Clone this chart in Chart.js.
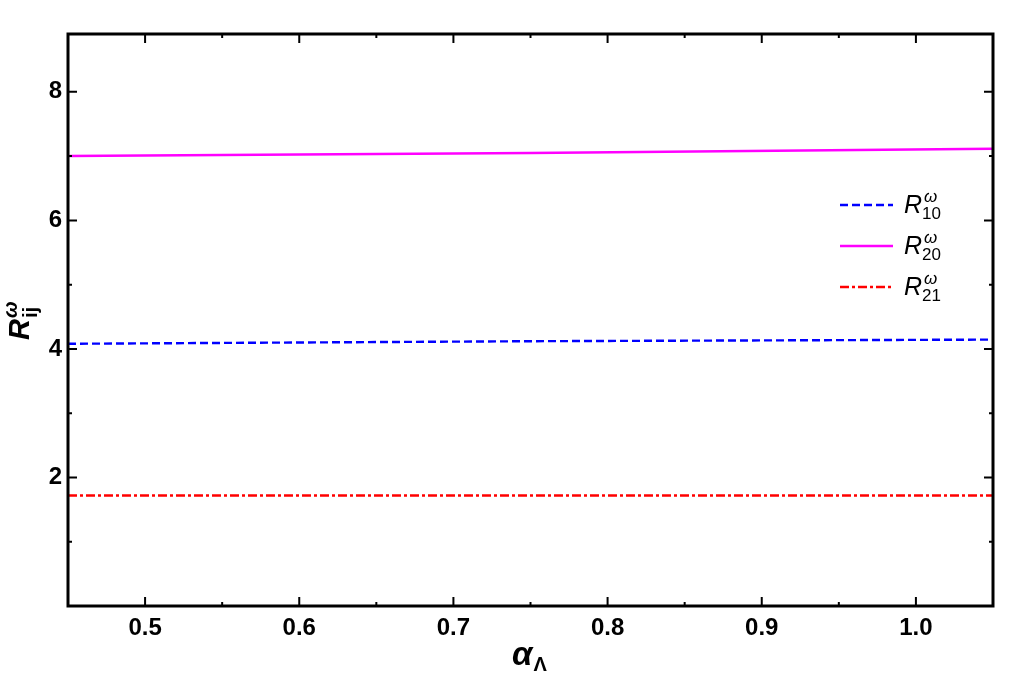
<!DOCTYPE html>
<html>
<head>
<meta charset="utf-8">
<script src="https://cdn.jsdelivr.net/npm/chart.js@4.4.1/dist/chart.umd.min.js"></script>
<style>
  html, body { margin:0; padding:0; background:#fff; }
  #wrap { width:1013px; height:675px; position:relative; }
</style>
</head>
<body>
<div id="wrap"><canvas id="c" width="1013" height="675"></canvas></div>
<script>
// values
const ALPHA = [0.45, 0.75, 1.05];
const R10 = [4.08, 4.12, 4.145];
const R20 = [7.00, 7.05, 7.115];
const R21 = [1.72, 1.72, 1.72];

const X_MAJOR = [0.5, 0.6, 0.7, 0.8, 0.9, 1.0];
const X_MINOR = [0.55, 0.65, 0.75, 0.85, 0.95];
const Y_MAJOR = [2, 4, 6, 8];
const Y_MINOR = [1, 3, 5, 7];

const SERIES = [
  { sub: '10', data: R10, color: '#0000ff', dash: [8, 4], width: 2.4 },
  { sub: '20', data: R20, color: '#ff00ff', dash: [], width: 2.5 },
  { sub: '21', data: R21, color: '#ff0000', dash: [9, 3, 3, 3], width: 2.4 },
];

const FONT = '"Liberation Sans", Arial, sans-serif';

// ticks pointing inward on all four sides, drawn from the scales
const tickPlugin = {
  id: 'inTicks',
  afterDraw(chart) {
    const { ctx, chartArea: a, scales: { x, y } } = chart;
    ctx.save();
    ctx.strokeStyle = '#000';
    ctx.lineWidth = 2;
    const xt = (v, len) => {
      const px = x.getPixelForValue(v);
      ctx.beginPath();
      ctx.moveTo(px, a.bottom); ctx.lineTo(px, a.bottom - len);
      ctx.moveTo(px, a.top); ctx.lineTo(px, a.top + len);
      ctx.stroke();
    };
    const yt = (v, len) => {
      const py = y.getPixelForValue(v);
      ctx.beginPath();
      ctx.moveTo(a.left, py); ctx.lineTo(a.left + len, py);
      ctx.moveTo(a.right, py); ctx.lineTo(a.right - len, py);
      ctx.stroke();
    };
    X_MAJOR.forEach(v => xt(v, 9));
    X_MINOR.forEach(v => xt(v, 4));
    Y_MAJOR.forEach(v => yt(v, 9));
    Y_MINOR.forEach(v => yt(v, 4));

    // frame
    ctx.lineWidth = 3;
    ctx.strokeRect(a.left, a.top, a.right - a.left, a.bottom - a.top);

    // axis titles
    ctx.fillStyle = '#000';
    ctx.textBaseline = 'alphabetic';
    ctx.font = 'italic bold 33px ' + FONT;
    const aw = ctx.measureText('α').width;
    const ax = 512;
    ctx.fillText('α', ax, 665);
    ctx.font = 'bold 20px ' + FONT;
    ctx.fillText('Λ', ax + aw + 1, 671);

    ctx.save();
    ctx.translate(29, 340);
    ctx.rotate(-Math.PI / 2);
    ctx.font = 'italic bold 29px ' + FONT;
    const rw = ctx.measureText('R').width;
    ctx.fillText('R', 0, 0);
    ctx.font = 'bold 20px ' + FONT;
    ctx.fillText('ij', rw + 1, 8);
    ctx.font = 'bold italic 20px ' + FONT;
    ctx.fillText('ω', rw + 1, -12);
    ctx.restore();

    // legend
    SERIES.forEach((s, i) => {
      const ly = 205 + i * 41;
      ctx.strokeStyle = s.color;
      ctx.lineWidth = s.width;
      ctx.setLineDash(s.dash);
      ctx.beginPath();
      ctx.moveTo(840, ly); ctx.lineTo(893, ly);
      ctx.stroke();
      ctx.setLineDash([]);
      ctx.fillStyle = '#000';
      ctx.font = 'italic 25px ' + FONT;
      ctx.fillText('R', 904, ly + 8);
      const w = ctx.measureText('R').width;
      ctx.font = '17px ' + FONT;
      ctx.fillText(s.sub, 904 + w, ly + 14);
      ctx.font = 'italic 17px ' + FONT;
      ctx.fillText('ω', 904 + w + 2, ly - 3);
    });
    ctx.restore();
  }
};

new Chart(document.getElementById('c').getContext('2d'), {
  type: 'line',
  data: {
    datasets: SERIES.map(s => ({
      label: 'R' + s.sub,
      data: ALPHA.map((a, i) => ({ x: a, y: s.data[i] })),
      borderColor: s.color,
      borderWidth: s.width,
      borderDash: s.dash,
      pointRadius: 0,
      fill: false,
      tension: 0,
    }))
  },
  options: {
    responsive: false,
    animation: false,
    layout: { padding: { top: 34, right: 20, left: 0, bottom: 0 } },
    plugins: { legend: { display: false }, tooltip: { enabled: false } },
    scales: {
      x: {
        type: 'linear', min: 0.45, max: 1.05,
        afterBuildTicks: s => { s.ticks = X_MAJOR.map(v => ({ value: v })); },
        afterFit: s => { s.height = 69; },
        grid: { display: false, drawTicks: false },
        border: { display: false },
        ticks: {
          font: { family: FONT, size: 24, weight: 'bold' }, color: '#000', padding: 8,
          maxRotation: 0, callback: v => v.toFixed(1)
        }
      },
      y: {
        type: 'linear', min: 0, max: 8.9,
        afterBuildTicks: s => { s.ticks = Y_MAJOR.map(v => ({ value: v })); },
        afterFit: s => { s.width = 68; },
        grid: { display: false, drawTicks: false },
        border: { display: false },
        ticks: { font: { family: FONT, size: 24, weight: 'bold' }, color: '#000', padding: 6 }
      }
    }
  },
  plugins: [tickPlugin]
});
</script>
</body>
</html>
